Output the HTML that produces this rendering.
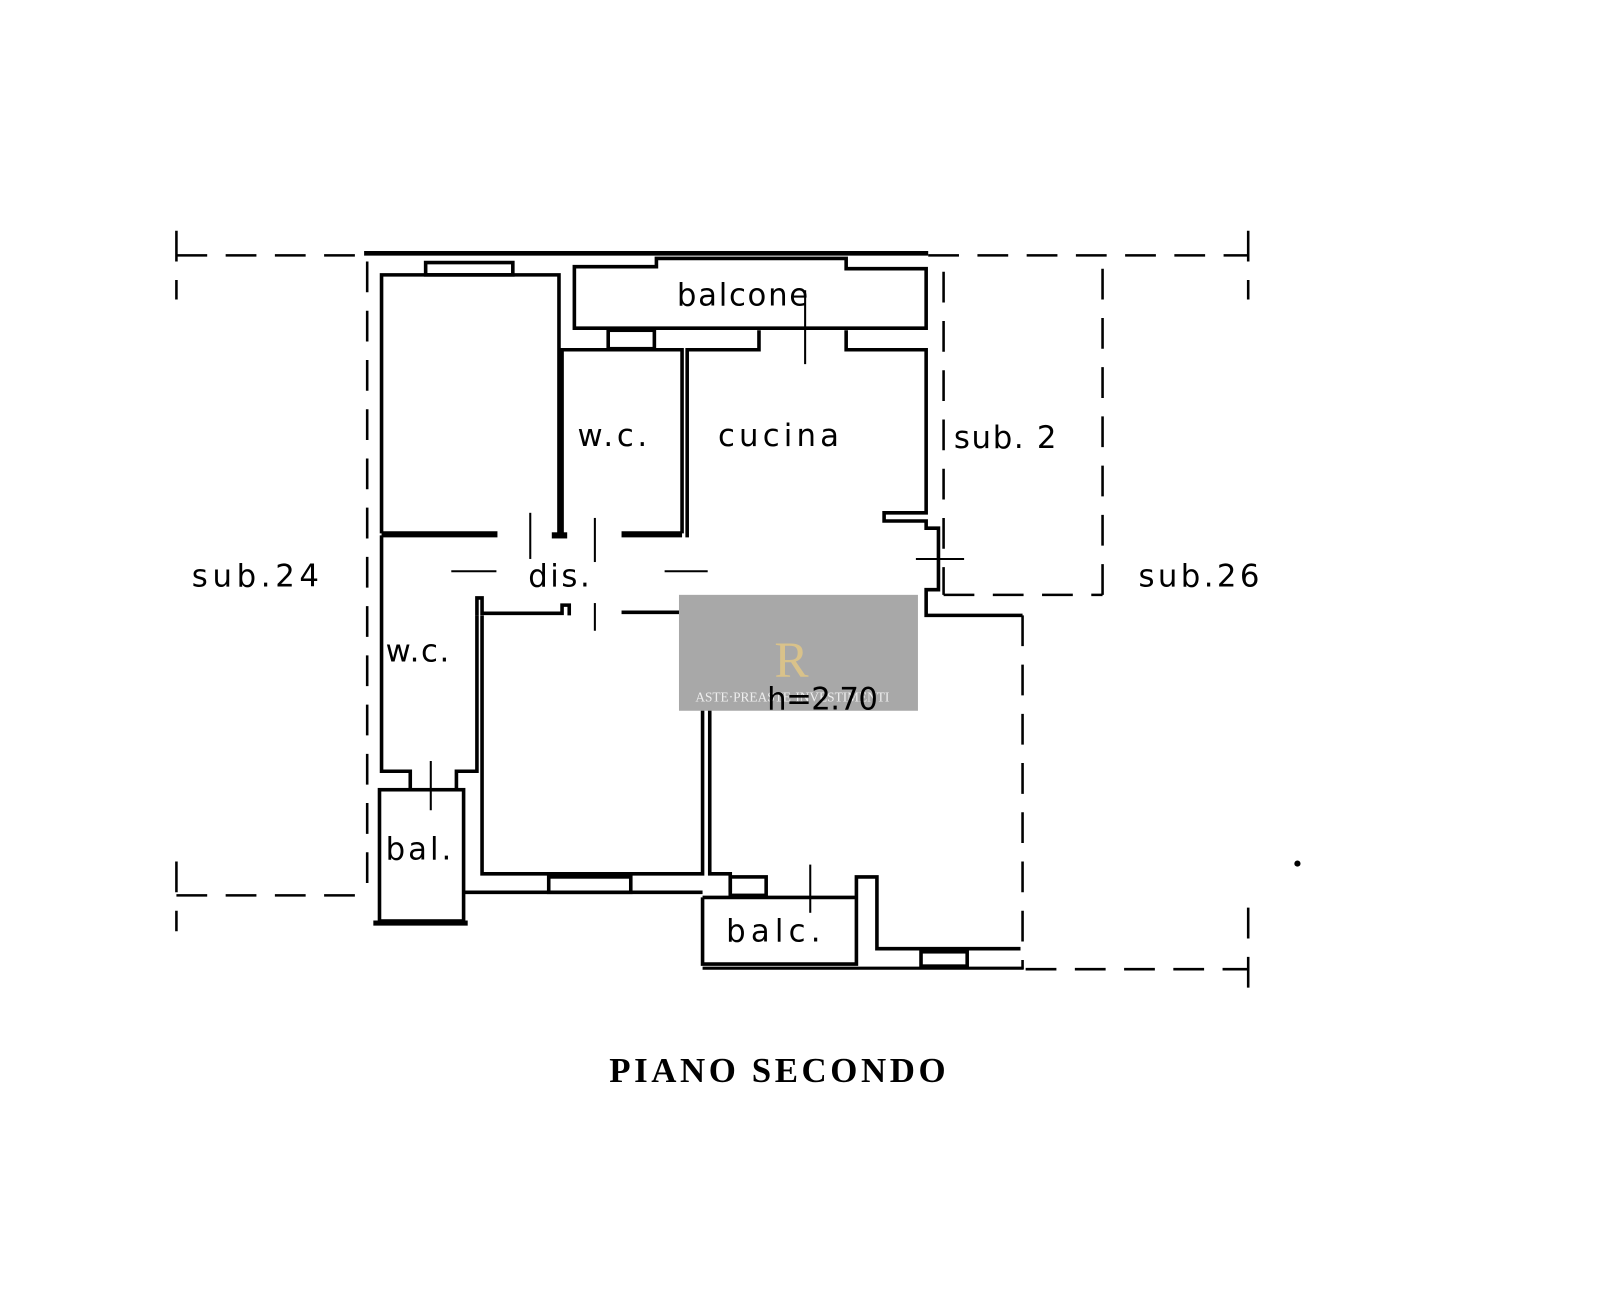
<!DOCTYPE html>
<html><head><meta charset="utf-8"><style>
html,body{margin:0;padding:0;background:#fff;}
svg{display:block}
text{font-family:"DejaVu Sans","Liberation Sans",sans-serif;fill:#000}
</style></head><body>
<svg width="1600" height="1305" viewBox="0 0 1560 1272.4" xmlns="http://www.w3.org/2000/svg">
<g fill="none" stroke="#000" stroke-width="3.5">
<g stroke-dasharray="30,18" stroke-width="2.5">
<line x1="172" y1="249" x2="355" y2="249"/>
<line x1="905" y1="249" x2="1217" y2="249"/>
<line x1="172" y1="225" x2="172" y2="292"/>
<line x1="1217" y1="225" x2="1217" y2="292"/>
<line x1="358" y1="255" x2="358" y2="870"/>
<line x1="920" y1="265" x2="920" y2="580"/>
<line x1="920" y1="580" x2="1075" y2="580"/>
<line x1="1075" y1="262" x2="1075" y2="580"/>
<line x1="997" y1="600" x2="997" y2="945"/>
<line x1="172" y1="873" x2="358" y2="873"/>
<line x1="172" y1="840" x2="172" y2="908"/>
<line x1="1000" y1="945" x2="1217" y2="945"/>
<line x1="1217" y1="885" x2="1217" y2="965"/>
</g>
<line x1="355" y1="247" x2="905" y2="247" stroke-width="4.5"/>
<path d="M372,520 V268 H545 V520"/>
<rect x="415" y="256" width="85" height="12"/>
<path d="M560,320 V260 H640 V252 H825 V262 H903 V320 Z"/>
<path d="M548,520 V341 H665 V520"/>
<rect x="593" y="322" width="45" height="18"/>
<path d="M670,524 V341 H740 V322"/>
<path d="M825,322 V341 H903 V500 H862 V508 H903 L903,515 H915 V575 H903 V600 H997"/>
<line x1="785" y1="283" x2="785" y2="355" stroke-width="2"/>
<line x1="893" y1="545" x2="940" y2="545" stroke-width="2"/>
<line x1="372" y1="521" x2="485" y2="521" stroke-width="6"/>
<line x1="538" y1="522" x2="553" y2="522" stroke-width="6"/>
<line x1="606" y1="521" x2="665" y2="521" stroke-width="6"/>
<line x1="517" y1="500" x2="517" y2="545" stroke-width="2"/>
<line x1="580" y1="505" x2="580" y2="548" stroke-width="2"/>
<line x1="440" y1="557" x2="484" y2="557" stroke-width="2"/>
<line x1="648" y1="557" x2="690" y2="557" stroke-width="2"/>
<line x1="580" y1="588" x2="580" y2="615" stroke-width="2"/>
<path d="M465,600 V583 H470 V598 H548 V590 H555 V600"/>
<path d="M606,597 H700 V588 H708 V600"/>
<path d="M372,522 V752 H400 V770"/>
<path d="M465,600 V752 H445 V770"/>
<line x1="420" y1="742" x2="420" y2="790" stroke-width="2"/>
<rect x="370" y="770" width="82" height="128"/>
<line x1="364" y1="900" x2="456" y2="900" stroke-width="5"/>
<path d="M470,600 V852 H685 V600"/>
<line x1="452" y1="870" x2="685" y2="870"/>
<rect x="535" y="855" width="80" height="15"/>
<path d="M692,600 V852 H712 V870"/>
<rect x="712" y="855" width="35" height="18"/>
<path d="M685,875 V940 H835 V855 H855 V925 H995"/>
<line x1="685" y1="875" x2="835" y2="875"/>
<line x1="790" y1="843" x2="790" y2="890" stroke-width="2"/>
<line x1="685" y1="944" x2="998" y2="944" stroke-width="3"/>
<rect x="898" y="928" width="45" height="14"/>
</g>
<circle cx="1265" cy="842" r="3" fill="#000"/>
<rect x="662" y="580" width="233" height="113" fill="#a8a8a8"/>
<text x="755" y="660" font-size="50" style="fill:#d9c28a;font-family:'Liberation Serif',serif">R</text>
<text x="678" y="684" font-size="13" style="fill:#eee;font-family:'Liberation Serif',serif">ASTE·PREASTE·INVESTIMENTI</text>
<g font-size="30">
<text x="187" y="572" textLength="124">sub.24</text>
<text x="1110" y="572" textLength="118">sub.26</text>
<text x="930" y="437" textLength="100">sub. 2</text>
<text x="660" y="298" textLength="128">balcone</text>
<text x="563" y="435" textLength="68">w.c.</text>
<text x="700" y="435" textLength="118">cucina</text>
<text x="515" y="572" textLength="60">dis.</text>
<text x="376" y="645" textLength="62">w.c.</text>
<text x="376" y="838" textLength="64">bal.</text>
<text x="708" y="918" textLength="92">balc.</text>
<text x="748" y="692" textLength="108">h=2.70</text>
</g>
<text x="594" y="1055" font-size="34" font-weight="bold" textLength="328" style="font-family:'Liberation Serif',serif">PIANO SECONDO</text>
</svg>
</body></html>
